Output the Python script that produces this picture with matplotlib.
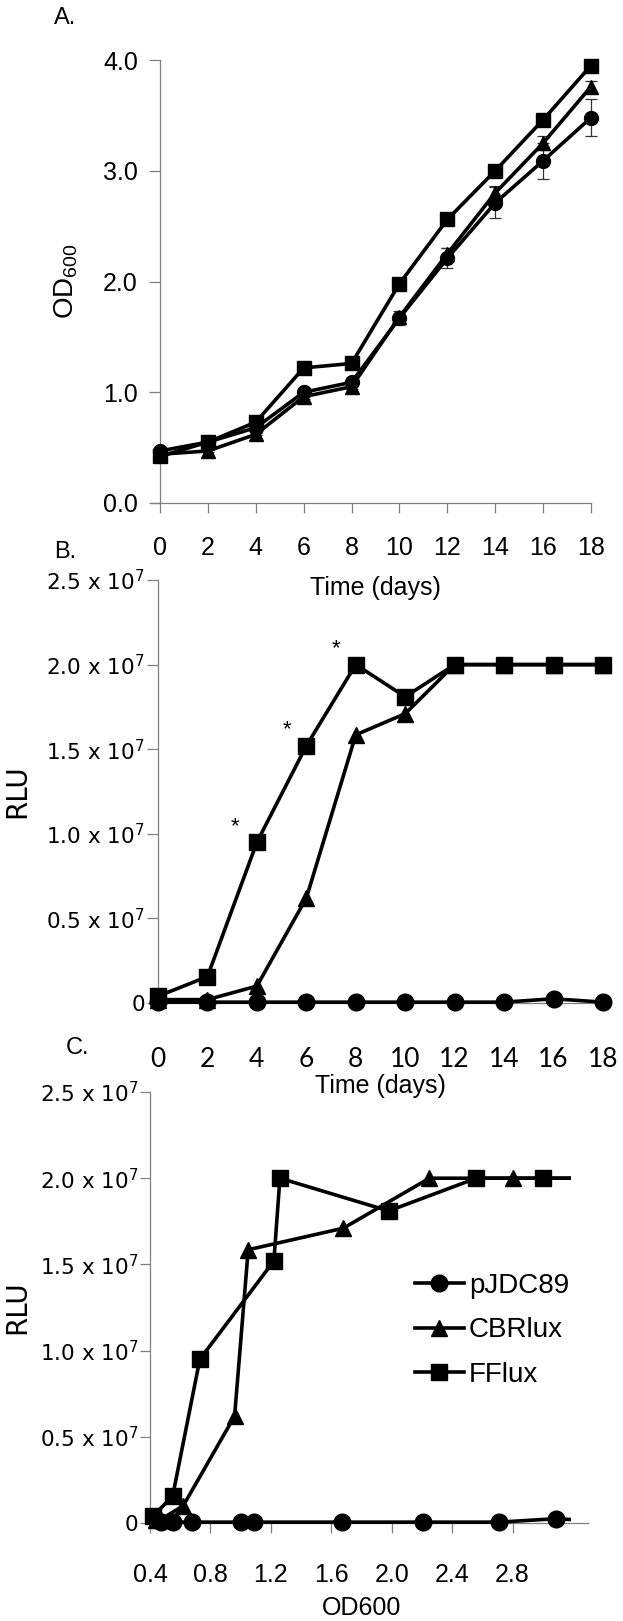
import matplotlib
matplotlib.use('Agg')
import matplotlib.pyplot as plt
from matplotlib.patches import Rectangle

# ---------------- data ----------------
days = [0, 2, 4, 6, 8, 10, 12, 14, 16, 18]

od_pjdc89 = [0.47, 0.55, 0.68, 1.00, 1.09, 1.67, 2.21, 2.71, 3.09, 3.48]
od_cbrlux = [0.44, 0.47, 0.62, 0.96, 1.05, 1.68, 2.25, 2.80, 3.25, 3.76]
od_fflux = [0.42, 0.55, 0.73, 1.22, 1.26, 1.98, 2.56, 3.00, 3.46, 3.95]

err_pjdc89 = [0.02, 0.02, 0.02, 0.02, 0.02, 0.06, 0.09, 0.14, 0.16, 0.17]
err_cbrlux = [0.01, 0.01, 0.01, 0.02, 0.02, 0.03, 0.05, 0.06, 0.06, 0.05]
err_fflux = [0.01, 0.01, 0.01, 0.01, 0.01, 0.02, 0.02, 0.02, 0.02, 0.02]

rlu_pjdc89 = [0.5e5, 0.5e5, 0.5e5, 0.5e5, 0.5e5, 0.5e5, 0.5e5, 0.5e5, 2.5e5, 0.5e5]
rlu_cbrlux = [2e5, 2e5, 1.0e6, 6.2e6, 1.585e7, 1.71e7, 2.0e7, 2.0e7, 2.0e7, 2.0e7]
rlu_fflux = [4e5, 1.56e6, 9.5e6, 1.52e7, 2.0e7, 1.81e7, 2.0e7, 2.0e7, 2.0e7, 2.0e7]

series_names = ['pJDC89', 'CBRlux', 'FFlux']
series_markers = ['o', '^', 's']

star_days = [3.1, 5.2, 7.2]
star_rlu = [1.04e7, 1.615e7, 2.095e7]

od_ticks = [0.0, 1.0, 2.0, 3.0, 4.0]
day_ticks = [0, 2, 4, 6, 8, 10, 12, 14, 16, 18]
rlu_ticks = [0, 0.5e7, 1.0e7, 1.5e7, 2.0e7, 2.5e7]
rlu_ticklabels = ['0', '0.5 x 10$^{7}$', '1.0 x 10$^{7}$', '1.5 x 10$^{7}$',
                  '2.0 x 10$^{7}$', '2.5 x 10$^{7}$']
odc_ticks = [0.4, 0.8, 1.2, 1.6, 2.0, 2.4, 2.8]

# ---------------- style ----------------
plt.rcParams['mathtext.default'] = 'regular'
NARROW = ['Liberation Sans Narrow', 'Liberation Sans', 'DejaVu Sans']
ARIAL = ['Liberation Sans', 'DejaVu Sans']
LATO = ['Lato', 'DejaVu Sans']
DEJA = ['DejaVu Sans']
plt.rcParams['font.family'] = ARIAL

W, H = 623, 1621
fig = plt.figure(figsize=(W / 100, H / 100), dpi=100)

def px_axes(left, right, top, bottom):
    ax = fig.add_axes([left / W, 1 - bottom / H, (right - left) / W, (bottom - top) / H])
    ax.patch.set_visible(False)
    return ax

SPINE = '#7f7f7f'
LW = 2.6

def style_axes(ax):
    for s in ['top', 'right']:
        ax.spines[s].set_visible(False)
    for s in ['left', 'bottom']:
        ax.spines[s].set_color(SPINE)
        ax.spines[s].set_linewidth(0.9)
    ax.tick_params(color=SPINE, width=0.9, direction='out')

od_series = [od_pjdc89, od_cbrlux, od_fflux]
err_series = [err_pjdc89, err_cbrlux, err_fflux]
rlu_series = [rlu_pjdc89, rlu_cbrlux, rlu_fflux]

# ---------------- Panel A ----------------
axA = px_axes(160, 591, 60, 503)
style_axes(axA)
for od, err, m in zip(od_series, err_series, series_markers):
    axA.errorbar(days, od, yerr=err, color='black', lw=LW, marker=m,
                 ms=9.5 if m != 'o' else 10, ecolor='#333333', elinewidth=0.9,
                 capsize=4, capthick=0.9, clip_on=False, zorder=3)
axA.set_xlim(0, 18)
axA.set_ylim(0, 4.0)
axA.set_yticks(od_ticks)
axA.set_yticklabels(['%.1f' % v for v in od_ticks], family=NARROW, fontsize=18)
axA.set_xticks(day_ticks)
axA.set_xticklabels([str(d) for d in day_ticks], family=ARIAL, fontsize=18)
axA.tick_params(axis='y', length=8, pad=8)
axA.tick_params(axis='x', length=7, pad=17)
axA.spines['bottom'].set_bounds(-0.35, 18)
axA.set_ylabel('OD$_{600}$', fontsize=20, family=ARIAL)
axA.yaxis.set_label_coords(-0.185, 0.5)
axA.set_xlabel('Time (days)', fontsize=18, family=ARIAL, labelpad=11)
fig.text(54 / W, 1 - 18 / H, 'A.', fontsize=17, family=NARROW, va='center', ha='left')

# ---------------- Panel B ----------------
axB = px_axes(158, 603, 580, 1003)
style_axes(axB)
for rlu, m in zip(rlu_series, series_markers):
    axB.plot(days, rlu, color='black', lw=LW, marker=m, ms=12 if m == 'o' else 11,
             clip_on=False, zorder=3)
for d, r in zip(star_days, star_rlu):
    axB.text(d, r, '*', fontsize=16, ha='center', va='center', family=ARIAL)
axB.set_xlim(0, 18)
axB.set_ylim(0, 2.5e7)
axB.set_yticks(rlu_ticks)
axB.set_yticklabels(rlu_ticklabels, family=DEJA, fontsize=15.5)
axB.set_xticks(day_ticks)
axB.set_xticklabels([str(d) for d in day_ticks], family=LATO, fontsize=19)
axB.tick_params(axis='y', length=8, pad=1.5)
axB.tick_params(axis='x', length=0, pad=32)
axB.set_ylabel('RLU', fontsize=20, family=DEJA)
axB.yaxis.set_label_coords(-0.285, 0.5)
axB.set_xlabel('Time (days)', fontsize=18, family=ARIAL, labelpad=1)
fig.text(54 / W, 1 - 552 / H, 'B.', fontsize=17, family=NARROW, va='center', ha='left')

# ---------------- Panel C ----------------
axC = px_axes(150, 573, 1092, 1523)
style_axes(axC)
clip = Rectangle((-0.2, -0.2), 1.195, 1.4, transform=axC.transAxes, visible=False)
axC.add_patch(clip)
for od, rlu, m, name in zip(od_series, rlu_series, series_markers, series_names):
    ln, = axC.plot(od, rlu, color='black', lw=LW, marker=m,
                   ms=12 if m == 'o' else 11, label=name, zorder=3)
    ln.set_clip_path(clip)
axC.set_xlim(0.4, 3.2)
axC.set_ylim(0, 2.5e7)
axC.spines['bottom'].set_bounds(0.4, 3.3)
axC.set_yticks(rlu_ticks)
axC.set_yticklabels(rlu_ticklabels, family=DEJA, fontsize=15.5)
axC.set_xticks(odc_ticks)
axC.set_xticklabels(['%.1f' % v for v in odc_ticks], family=NARROW, fontsize=18)
axC.tick_params(axis='y', length=7, pad=1.5)
axC.tick_params(axis='x', length=7, pad=22)
axC.set_ylabel('RLU', fontsize=20, family=DEJA)
axC.yaxis.set_label_coords(-0.28, 0.5)
axC.set_xlabel('OD600', fontsize=18, family=ARIAL, labelpad=6)
leg = axC.legend(loc='upper left', bbox_to_anchor=(404 / W, 1 - 1262 / H),
                 bbox_transform=fig.transFigure, frameon=False,
                 prop={'family': ARIAL, 'size': 20}, handlelength=1.75,
                 handletextpad=0.18, labelspacing=0.66, borderaxespad=0)
fig.text(66 / W, 1 - 1048 / H, 'C.', fontsize=17, family=NARROW, va='center', ha='left')

fig.savefig('out.png', dpi=100)
